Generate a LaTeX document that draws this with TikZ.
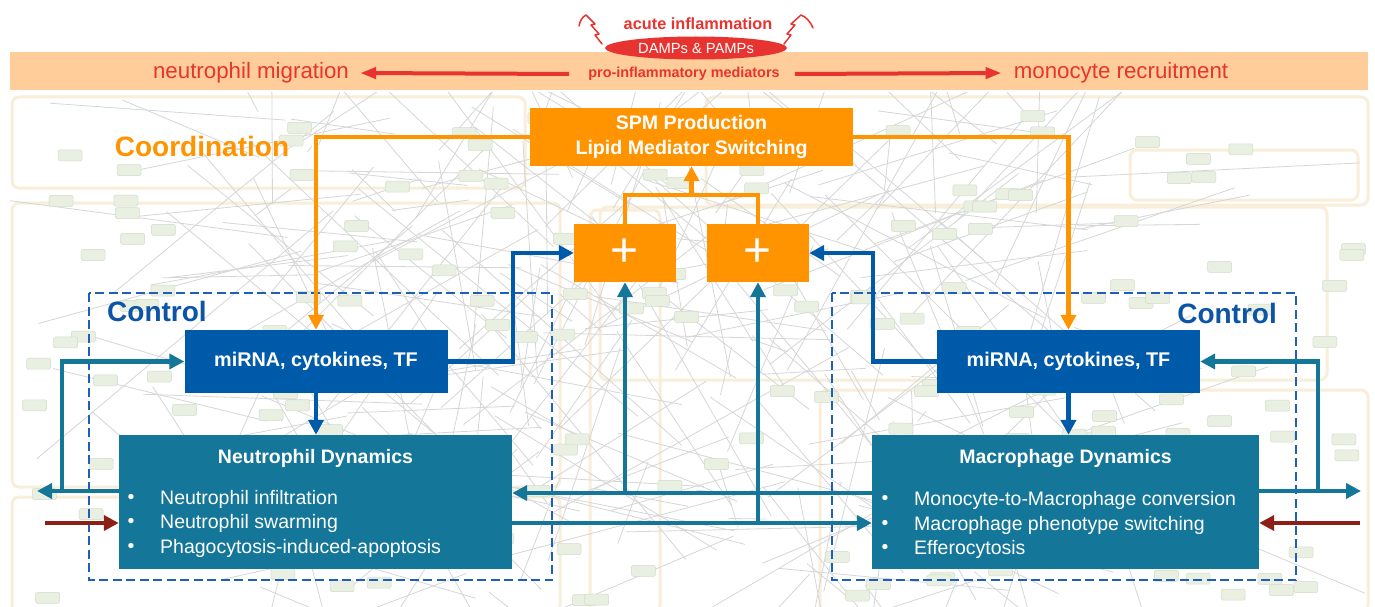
\documentclass[tikz,border=0pt]{standalone}
\usepackage{fontspec}
\setmainfont{Liberation Sans}
\usetikzlibrary{arrows.meta,shapes.geometric,calc}
\definecolor{bandc}{RGB}{254,205,153}
\definecolor{redc}{RGB}{232,52,48}
\definecolor{orc}{RGB}{255,147,0}
\definecolor{dblue}{RGB}{0,90,170}
\definecolor{tealc}{RGB}{20,118,152}
\definecolor{dashc}{RGB}{30,95,185}
\definecolor{ctlc}{RGB}{12,84,166}
\definecolor{brownc}{RGB}{140,32,22}
\definecolor{bgline}{RGB}{214,214,214}
\definecolor{panelc}{RGB}{248,238,218}
\definecolor{nodebg}{RGB}{233,240,226}
\definecolor{nodebd}{RGB}{208,220,200}
\tikzset{
  box/.style={rectangle, inner sep=0pt, text=white},
  orbox/.style={box, fill=orc},
  mibox/.style={box, fill=dblue, minimum width=263pt, minimum height=63pt, font=\fontsize{19.8}{24}\selectfont\bfseries},
  dynbox/.style={box, fill=tealc, minimum height=134pt},
  txt/.style={inner sep=0pt, text=white, font=\fontsize{19.5}{24}\selectfont},
  ttl/.style={inner sep=0pt, text=white, font=\fontsize{19.5}{24}\selectfont\bfseries},
  tip/.style={-{Triangle[length=15pt,width=15pt]}},
  orline/.style={draw=orc, line width=4.2pt},
  orarrow/.style={orline, tip},
  blarrow/.style={draw=dblue, line width=4.2pt, tip},
  tarrow/.style={draw=tealc, line width=4.2pt, tip},
  brarrow/.style={draw=brownc, line width=4.2pt, tip},
  redarrow/.style={draw=redc, line width=4pt, -{Triangle[length=16pt,width=11pt]}},
  ctlbox/.style={draw=dashc, line width=2.8pt, dash pattern=on 9pt off 4.5pt},
  panel/.style={draw=panelc, line width=3pt, rounded corners=7pt},
  squig/.style={draw=redc, line width=1.5pt, line join=round, line cap=round},
}
\begin{document}
\begin{tikzpicture}[x=1pt,y=-1pt]
\useasboundingbox (0,0) rectangle (1375,607);
\fill[white] (0,0) rectangle (1375,607);
% ---- faint background network ----
\begin{scope}
\clip (10,93) rectangle (1370,607);
\draw[panel] (12,97) rectangle (525,188);
\draw[panel] (12,203) rectangle (560,487);
\draw[panel] (12,497) rectangle (560,612);
\draw[panel] (706,97) rectangle (1368,205);
\draw[panel] (1130,150) rectangle (1358,200);
\draw[panel] (600,207) rectangle (1327,380);
\draw[panel] (820,390) rectangle (1368,612);
\draw[panel] (590,210) rectangle (660,612);
\pgfmathsetseed{11}
\foreach \i in {1,...,280}{
  \pgfmathsetmacro\xa{250+850*rnd}
  \pgfmathsetmacro\ya{110+490*rnd}
  \pgfmathsetmacro\xb{\xa+(rnd-0.5)*600}
  \pgfmathsetmacro\yb{\ya+(rnd-0.5)*500}
  \draw[bgline, line width=0.8pt] (\xa,\ya) -- (\xb,\yb);
}
\foreach \i in {1,...,170}{
  \pgfmathsetmacro\xa{15+1330*rnd}
  \pgfmathsetmacro\ya{100+495*rnd}
  \filldraw[fill=nodebg, draw=nodebd, line width=0.5pt, rounded corners=1.5pt] (\xa,\ya) rectangle ++(24,11);
}
\end{scope}
% ---- top band ----
\fill[bandc] (10,52) rectangle (1368,90);
\node[inner sep=0pt, text=redc, font=\fontsize{22.3}{26}\selectfont] (nm) at (251,73) {neutrophil migration};
\node[inner sep=0pt, text=redc, font=\fontsize{22.3}{26}\selectfont] (mr) at (1121,73) {monocyte recruitment};
\node[inner sep=0pt, text=redc, font=\fontsize{14.4}{17}\selectfont\bfseries] (pim) at (684,74) {pro-inflammatory mediators};
\draw[redarrow] ([xshift=-19pt]pim.west) -- ([xshift=11pt]nm.east);
\draw[redarrow] ([xshift=15pt]pim.east) -- ([xshift=-12pt]mr.west);
\node[ellipse, fill=redc, inner sep=0pt, minimum width=182pt, minimum height=23pt, text=white, font=\fontsize{14.7}{17}\selectfont] (damps) at (696,48) {DAMPs \& PAMPs};
\node[inner sep=0pt, text=redc, font=\fontsize{16.3}{19}\selectfont\bfseries] (acute) at (698,24) {acute inflammation};
\draw[squig] (602,44) -- (595,35) -- (599,34) -- (591,25) -- (595,24) -- (586,15) .. controls (582,17) and (580,21) .. (579,26);
\draw[squig] (784,44) -- (791,35) -- (787,34) -- (795,25) -- (791,24) -- (801,15) .. controls (806,17) and (810,21) .. (813,28);
% ---- labels ----
\node[inner sep=0pt, text=orc, font=\fontsize{28}{32}\selectfont\bfseries] (coord) at (202,146) {Coordination};
\draw[ctlbox] (89,293) rectangle (552,580);
\draw[ctlbox] (832,293) rectangle (1296,580);
\node[inner sep=0pt, anchor=west, text=ctlc, font=\fontsize{28}{32}\selectfont\bfseries] (ctlL) at (107,311) {Control};
\node[inner sep=0pt, anchor=east, text=ctlc, font=\fontsize{28}{32}\selectfont\bfseries] (ctlR) at (1277,313) {Control};
% ---- main boxes ----
\node[orbox, minimum width=323pt, minimum height=58pt, align=center, font=\fontsize{19.6}{25}\selectfont\bfseries] (spm) at (691.5,137) {SPM Production\\Lipid Mediator Switching};
\node[orbox, minimum width=102pt, minimum height=58pt, font=\fontsize{48}{48}\selectfont] (plusL) at (625,253) {+};
\node[orbox, minimum width=102pt, minimum height=58pt, font=\fontsize{48}{48}\selectfont] (plusR) at (758,253) {+};
\node[mibox] (miL) at (316,361.5) {miRNA, cytokines, TF};
\node[mibox] (miR) at (1068.5,361.5) {miRNA, cytokines, TF};
\node[dynbox, minimum width=393pt] (neu) at (315.5,502) {};
\node[dynbox, minimum width=387pt] (mac) at (1065.5,502) {};
\node[ttl] (neuT) at (315.5,458) {Neutrophil Dynamics};
\node[txt] (nb1) at (131,499) {•};
\node[txt] (nb2) at (131,523) {•};
\node[txt] (nb3) at (131,548) {•};
\node[txt, anchor=west] (n1) at (160,499) {Neutrophil infiltration};
\node[txt, anchor=west] (n2) at (160,523) {Neutrophil swarming};
\node[txt, anchor=west] (n3) at (160,548) {Phagocytosis-induced-apoptosis};
\node[ttl] (macT) at (1065.5,458) {Macrophage Dynamics};
\node[txt] (mb1) at (885,500) {•};
\node[txt] (mb2) at (885,525) {•};
\node[txt] (mb3) at (885,549) {•};
\node[txt, anchor=west] (m1t) at (914,500) {Monocyte-to-Macrophage conversion};
\node[txt, anchor=west] (m2t) at (914,525) {Macrophage phenotype switching};
\node[txt, anchor=west] (m3t) at (914,549) {Efferocytosis};
% ---- orange connectors ----
\draw[orarrow] (spm.west) -| (miL.north);
\draw[orarrow] (spm.east) -| (miR.north);
\coordinate (join) at (691.5,195);
\draw[orline] (plusL.north) |- (join);
\draw[orline] (plusR.north) |- (join);
\draw[orarrow] (join) -- (spm.south);
% ---- blue connectors ----
\draw[blarrow] (miL.east) -- ++(65,0) |- (plusL.west);
\draw[blarrow] (miR.west) -- ++(-64,0) |- (plusR.east);
\draw[blarrow] (miL.south) -- (miL.south |- neu.north);
\draw[blarrow] (miR.south) -- (miR.south |- mac.north);
% ---- teal connectors ----
\coordinate (lout) at (37,491);
\coordinate (lbr) at (62,491);
\draw[tarrow] (neu.west |- lout) -- (lout);
\draw[tarrow] (lbr) |- (miL.west);
\coordinate (rout) at (1361,491);
\coordinate (rbr) at (1318,491);
\draw[tarrow] (mac.east |- rout) -- (rout);
\draw[tarrow] (rbr) |- (miR.east);
\coordinate (mj1) at (625,493);
\draw[tarrow] (mac.west |- mj1) -- (neu.east |- mj1);
\draw[tarrow] (mj1) -- (plusL.south);
\coordinate (mj2) at (758,523);
\draw[tarrow] (neu.east |- mj2) -- (mac.west |- mj2);
\draw[tarrow] (mj2) -- (plusR.south);
% ---- brown inputs ----
\coordinate (bl) at (45,523);
\coordinate (br) at (1360,523);
\draw[brarrow] (bl) -- (neu.west |- bl);
\draw[brarrow] (br) -- (mac.east |- br);
\end{tikzpicture}
\end{document}
